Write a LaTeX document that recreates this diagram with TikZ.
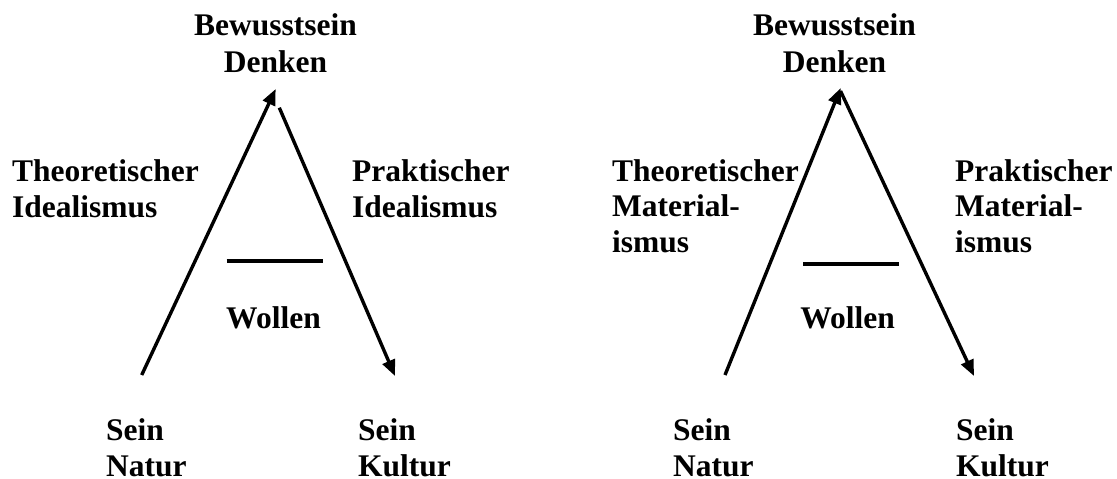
\documentclass[tikz,border=0pt]{standalone}
\usepackage{fontspec}
\setmainfont{Liberation Serif}
\usetikzlibrary{arrows.meta}
\tikzset{
  lbl/.style={font=\bfseries\fontsize{31.5}{35.5}\selectfont, inner sep=0pt, align=left, anchor=base west},
  ctr/.style={font=\bfseries\fontsize{31.5}{36.5}\selectfont, inner sep=0pt, align=center, anchor=base},
  arr/.style={line width=3.4pt, -{Triangle[length=16pt,width=13pt]}},
  bar/.style={line width=3.5pt}
}
\begin{document}
\begin{tikzpicture}[x=1pt,y=-1pt]
\useasboundingbox (0,0) rectangle (1117,479);
% left diagram
\node[ctr] (Ltop) at (275.5,72) {Bewusstsein\\Denken};
\node[lbl] (Lth) at (12,217) {Theoretischer\\Idealismus};
\node[lbl] (Lpr) at (352,217) {Praktischer\\Idealismus};
\node[ctr] (Lwo) at (273.5,328) {Wollen};
\node[lbl] (Lna) at (106,476) {Sein\\Natur};
\node[lbl] (Lku) at (358,476) {Sein\\Kultur};
\coordinate (La) at (141.7,375);
\coordinate (Lb) at (275.7,89);
\coordinate (Lc) at (279.3,107.7);
\coordinate (Ld) at (395,376);
\coordinate (Lbar1) at (226.7,261);
\coordinate (Lbar2) at (322.7,261);
\draw[arr] (La) -- (Lb);
\draw[arr] (Lc) -- (Ld);
\draw[bar] (Lbar1) -- (Lbar2);
% right diagram
\node[ctr] (Rtop) at (834.5,72) {Bewusstsein\\Denken};
\node[lbl] (Rth) at (612,252) {Theoretischer\\Material-\\ismus};
\node[lbl] (Rpr) at (955,252) {Praktischer\\Material-\\ismus};
\node[ctr] (Rwo) at (847.5,328) {Wollen};
\node[lbl] (Rna) at (673,476) {Sein\\Natur};
\node[lbl] (Rku) at (956,476) {Sein\\Kultur};
\coordinate (Ra) at (725,375);
\coordinate (Rb) at (840.7,88);
\coordinate (Rc) at (840.5,91);
\coordinate (Rd) at (974,376);
\coordinate (Rbar1) at (803,264);
\coordinate (Rbar2) at (899,264);
\draw[arr] (Ra) -- (Rb);
\draw[arr] (Rc) -- (Rd);
\draw[bar] (Rbar1) -- (Rbar2);
\end{tikzpicture}
\end{document}
